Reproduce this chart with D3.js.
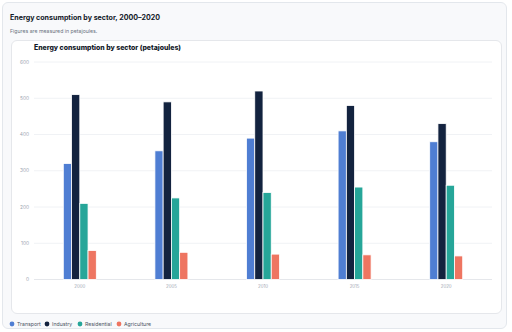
<!DOCTYPE html>
<meta charset="utf-8">
<style>
    body { margin: 0; background: #fff; font-family: Inter, "Noto Sans", sans-serif; }
    .card {
        position: absolute; left: 2px; top: 2px; width: 505px; height: 327px;
        background: #f8f9fb; border: 1px solid #e3e7ec; border-radius: 6px; box-sizing: border-box;
    }
    .title { position: absolute; left: 7px; top: 10px; font-size: 7.1px; font-weight: 700; color: #111827; }
    .subtitle { position: absolute; left: 7px; top: 25px; font-size: 5.2px; color: #6b7280; }
    .inner {
        position: absolute; left: 8px; top: 37px; width: 491px; height: 274px;
        background: #fff; border: 1px solid #e5e7eb; border-radius: 6px; box-sizing: border-box;
    }
    svg { position: absolute; left: 0; top: 0; }
</style>
<div class="card">
    <div class="title">Energy consumption by sector, 2000–2020</div>
    <div class="subtitle">Figures are measured in petajoules.</div>
    <div class="inner"></div>
</div>
<svg width="512" height="332"></svg>
<script src="https://d3js.org/d3.v7.min.js"></script>
<script>

    var years = ["2000", "2005", "2010", "2015", "2020"];
    var sectors = ["Transport", "Industry", "Residential", "Agriculture"];
    var colors = ["#4f7ed3", "#13233f", "#26a699", "#ee7561"];
    var transport = [320, 355, 390, 410, 380];
    var industry = [510, 490, 520, 480, 430];
    var residential = [210, 225, 240, 255, 260];
    var agriculture = [80, 75, 70, 68, 65];
    var yTicks = [0, 100, 200, 300, 400, 500, 600];

    var series = [transport, industry, residential, agriculture];

    var svg = d3.select("svg");
    var plotLeft = 34, plotRight = 492, plotTop = 62, plotBottom = 279.5;

    var x = d3.scaleBand().domain(years).range([plotLeft, plotRight]).padding(0);
    var y = d3.scaleLinear().domain([0, 600]).range([plotBottom, plotTop]);
    var x1 = d3.scaleBand().domain(sectors).range([0, 33]).padding(0);

    svg.append("text")
        .attr("x", 34).attr("y", 50)
        .attr("font-size", 6.9).attr("font-weight", 800).attr("fill", "#111827")
        .text("Energy consumption by sector (petajoules)");

    svg.append("g").selectAll("line").data(yTicks).enter().append("line")
        .attr("x1", plotLeft).attr("x2", plotRight)
        .attr("y1", function(d) { return y(d); })
        .attr("y2", function(d) { return y(d); })
        .attr("stroke", function(d) { return d === 0 ? "#e5e7eb" : "#f0f2f5"; });

    svg.append("g").selectAll("text").data(yTicks).enter().append("text")
        .attr("x", 29).attr("y", function(d) { return y(d); })
        .attr("dy", "0.35em").attr("text-anchor", "end")
        .attr("font-size", 4.8).attr("fill", "#9ca3af")
        .text(function(d) { return d; });

    svg.append("g").selectAll("text").data(years).enter().append("text")
        .attr("x", function(d) { return x(d) + x.bandwidth() / 2; })
        .attr("y", plotBottom + 8)
        .attr("text-anchor", "middle")
        .attr("font-size", 4.4).attr("fill", "#9ca3af")
        .text(function(d) { return d; });

    var groups = svg.append("g").selectAll("g").data(years).enter().append("g")
        .attr("transform", function(d) { return "translate(" + (x(d) + x.bandwidth() / 2 - 16.5) + ",0)"; });

    groups.selectAll("rect")
        .data(function(d, i) { return sectors.map(function(s, j) { return { s: s, v: series[j][i], c: colors[j] }; }); })
        .enter().append("rect")
        .attr("x", function(d) { return x1(d.s); })
        .attr("width", x1.bandwidth())
        .attr("y", function(d) { return y(d.v); })
        .attr("height", function(d) { return plotBottom - y(d.v); })
        .attr("fill", function(d) { return d.c; })
        .attr("stroke", "#fff").attr("stroke-width", 0.8);

    var lx = [12, 47, 80, 119];
    var legend = svg.append("g").selectAll("g").data(sectors).enter().append("g")
        .attr("transform", function(d, i) { return "translate(" + lx[i] + ",324)"; });
    legend.append("circle").attr("r", 2.4).attr("fill", function(d, i) { return colors[i]; });
    legend.append("text").attr("x", 5).attr("dy", "0.35em")
        .attr("font-size", 5.2).attr("fill", "#4b5563")
        .text(function(d) { return d; });

</script>
